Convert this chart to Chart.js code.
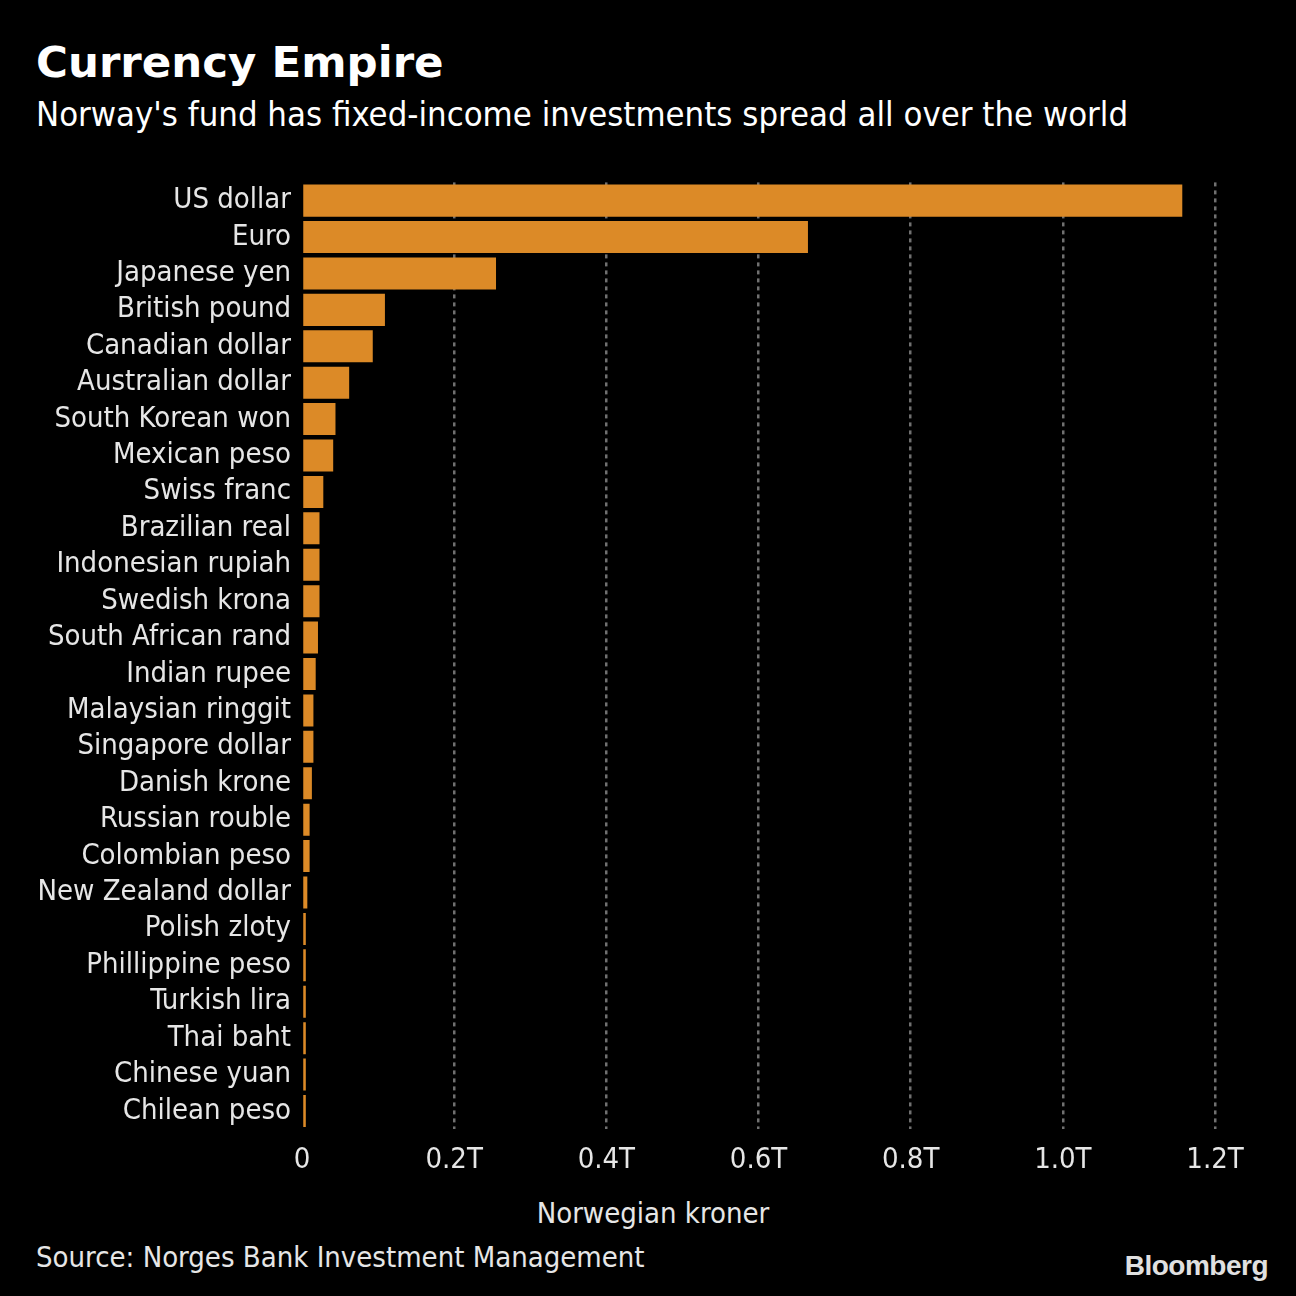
<!DOCTYPE html>
<html lang="en">
<head>
    <meta charset="UTF-8">
    <title>Currency Empire</title>
    <script src="https://cdn.jsdelivr.net/npm/chart.js"></script>
    <style>
        body {
            margin: 0;
            background: #000;
            font-family: "DejaVu Sans Condensed", "DejaVu Sans", sans-serif;
            color: #fff;
        }
        .page {
            position: relative;
            width: 1296px;
            height: 1296px;
            background: #000;
            overflow: hidden;
        }
        .title {
            position: absolute;
            left: 36px;
            top: 36px;
            font-family: "DejaVu Sans", sans-serif;
            font-weight: bold;
            font-size: 43.5px;
            line-height: 52px;
        }
        .subtitle {
            position: absolute;
            left: 36px;
            top: 94px;
            font-size: 34.4px;
            line-height: 40px;
        }
        .chart-box {
            position: absolute;
            left: 0;
            top: 162px;
            width: 1296px;
            height: 1030px;
        }
        .axis-title {
            position: absolute;
            left: 0;
            width: 1306px;
            top: 1196px;
            text-align: center;
            font-size: 29px;
            color: #e6e6e6;
        }
        .source {
            position: absolute;
            left: 36px;
            top: 1240px;
            font-size: 29px;
            color: #e6e6e6;
        }
        .logo {
            position: absolute;
            right: 28px;
            top: 1250px;
            font-family: "Liberation Sans Narrow", "Liberation Sans", sans-serif;
            font-weight: bold;
            font-size: 28px;
            color: #e0e0e0;
            letter-spacing: -0.5px;
        }
    </style>
</head>
<body>
    <div class="page">
        <div class="title">Currency Empire</div>
        <div class="subtitle">Norway's fund has fixed-income investments spread all over the world</div>
        <div class="chart-box"><canvas id="chart"></canvas></div>
        <div class="axis-title">Norwegian kroner</div>
        <div class="source">Source: Norges Bank Investment Management</div>
        <div class="logo">Bloomberg</div>
    </div>

    <script>
        // currencies, top to bottom
        const currencies = [
            "US dollar", "Euro", "Japanese yen", "British pound", "Canadian dollar",
            "Australian dollar", "South Korean won", "Mexican peso", "Swiss franc",
            "Brazilian real", "Indonesian rupiah", "Swedish krona", "South African rand",
            "Indian rupee", "Malaysian ringgit", "Singapore dollar", "Danish krone",
            "Russian rouble", "Colombian peso", "New Zealand dollar", "Polish zloty",
            "Phillippine peso", "Turkish lira", "Thai baht", "Chinese yuan", "Chilean peso"
        ];

        // holdings in trillions of Norwegian kroner
        const holdings = [
            1.157, 0.665, 0.255, 0.109, 0.093,
            0.062, 0.044, 0.041, 0.028,
            0.023, 0.023, 0.023, 0.021,
            0.018, 0.015, 0.015, 0.013,
            0.010, 0.010, 0.007, 0.005,
            0.005, 0.005, 0.005, 0.005, 0.005
        ];

        const xTicks = [0, 0.2, 0.4, 0.6, 0.8, 1.0, 1.2];

        const labelFont = { family: "'DejaVu Sans Condensed', 'DejaVu Sans', sans-serif", size: 29 };

        new Chart(document.getElementById("chart"), {
            type: "bar",
            data: {
                labels: currencies,
                datasets: [{
                    data: holdings,
                    backgroundColor: "#dc8a27",
                    borderWidth: 0,
                    categoryPercentage: 1,
                    barPercentage: 0.88
                }]
            },
            options: {
                indexAxis: "y",
                responsive: true,
                maintainAspectRatio: false,
                animation: false,
                layout: { padding: { top: 0, right: 81, bottom: 0, left: 0 } },
                plugins: {
                    legend: { display: false },
                    tooltip: { enabled: false }
                },
                scales: {
                    x: {
                        min: 0,
                        max: 1.2,
                        afterBuildTicks: (scale) => {
                            scale.ticks = xTicks.map(v => ({ value: v }));
                        },
                        grid: {
                            color: (ctx) => ctx.tick && ctx.tick.value === 0 ? "rgba(0,0,0,0)" : "#707070",
                            lineWidth: 2.5,
                            drawTicks: false
                        },
                        border: { display: false, dash: [4, 4] },
                        ticks: {
                            color: "#e6e6e6",
                            font: labelFont,
                            padding: 14,
                            maxRotation: 0,
                            callback: (v) => v === 0 ? "0" : v.toFixed(1) + "T"
                        }
                    },
                    y: {
                        afterFit: (scale) => { scale.width = 302; },
                        border: { display: false },
                        grid: { display: false },
                        ticks: {
                            color: "#e6e6e6",
                            font: labelFont,
                            padding: 3,
                            autoSkip: false
                        }
                    }
                }
            }
        });
    </script>
</body>
</html>
